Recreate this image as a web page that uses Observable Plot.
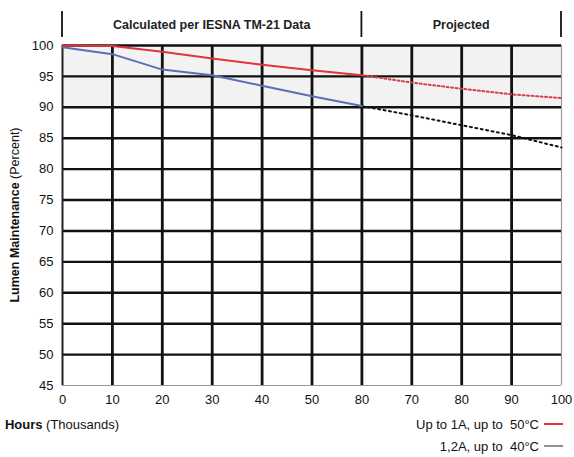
<!DOCTYPE html>
<html><head><meta charset="utf-8">
<script src="https://cdn.jsdelivr.net/npm/d3@7"></script>
<script src="https://cdn.jsdelivr.net/npm/@observablehq/plot@0.6"></script>
<style>body{margin:0;background:#fff;font-family:"Liberation Sans",Arial,sans-serif;}</style>
</head><body><div id="chart"></div>
<script>
// Data (thousands of hours, percent lumen maintenance)
const hours = [0, 10, 20, 30, 40, 50, 60];
const red50 = [100, 99.9, 99.0, 97.9, 96.9, 96.0, 95.2];
const blue40 = [99.7, 98.6, 96.1, 95.2, 93.5, 91.8, 90.2];
const projHours = [60, 70, 80, 90, 100];
const red50Proj = [95.2, 94.0, 93.0, 92.1, 91.5];
const blue40Proj = [90.2, 88.7, 87.1, 85.5, 83.5];
const xTicks = [0, 10, 20, 30, 40, 50, 60, 70, 80, 90, 100];
const xTickLabels = ["0", "10", "20", "30", "40", "50", "80", "70", "80", "90", "100"];
const yTicks = [45, 50, 55, 60, 65, 70, 75, 80, 85, 90, 95, 100];
const gridX = [10, 20, 30, 40, 50, 60, 70, 80, 90];
const gridY = [50, 55, 60, 65, 70, 75, 80, 85, 90, 95, 100];
const sections = ["Calculated per IESNA TM-21 Data", "Projected"];
const sectionBounds = [0, 60, 100];
const legendLabels = ["Up to 1A, up to  50°C", "1,2A, up to  40°C"];
const legendColors = ["#e0353a", "#8a9098"];

(function () {
const solidRed = hours.map((h, i) => ({x: h, y: red50[i]}));
const solidBlue = hours.map((h, i) => ({x: h, y: blue40[i]}));
const projRed = projHours.map((h, i) => ({x: h, y: red50Proj[i]}));
const projBlue = projHours.map((h, i) => ({x: h, y: blue40Proj[i]}));
const fmt = (d) => xTickLabels[xTicks.indexOf(d)];

const plot = Plot.plot({
  width: 574,
  height: 457,
  marginTop: 45,
  marginBottom: 72,
  marginLeft: 62,
  marginRight: 13,
  style: {fontFamily: '"Liberation Sans", Arial, sans-serif', fontSize: "13px", background: "#fff", color: "#111"},
  x: {domain: [0, 100], label: null},
  y: {domain: [45, 100], label: null},
  marks: [
    Plot.rect([{}], {x1: 0, x2: 100, y1: 90, y2: 100, fill: "#f2f2f2"}),
    Plot.ruleY([45], {stroke: "#999", strokeWidth: 1.2}),
    Plot.ruleX([100], {stroke: "#999", strokeWidth: 1.2}),
    Plot.ruleY(gridY, {stroke: "#111", strokeWidth: 2.4}),
    Plot.ruleX(gridX, {stroke: "#111", strokeWidth: 2.8}),
    Plot.ruleX([0], {stroke: "#222", strokeWidth: 2}),
    Plot.line(projRed, {x: "x", y: "y", stroke: "#d8404e", strokeWidth: 2, strokeDasharray: "2,2.5"}),
    Plot.line(projBlue, {x: "x", y: "y", stroke: "#111", strokeWidth: 2, strokeDasharray: "2,3.5"}),
    Plot.line(solidBlue, {x: "x", y: "y", stroke: "#5b6fb4", strokeWidth: 2}),
    Plot.line(solidRed, {x: "x", y: "y", stroke: "#e0353a", strokeWidth: 2}),
    Plot.axisX({ticks: xTicks, tickFormat: fmt, tickSize: 0, tickPadding: 9, label: null, fontSize: 13}),
    Plot.axisY({ticks: yTicks, tickSize: 0, tickPadding: 9, label: null, fontSize: 13})
  ]
});
document.getElementById("chart").append(plot);

const xs = plot.scale("x"), ys = plot.scale("y");
const svg = d3.select(plot);
const yTop = ys.apply(100), yBottom = ys.apply(45);
const xLeft = xs.apply(0), xRight = xs.apply(100);

// header section dividers and titles
const hdr = svg.append("g");
sectionBounds.forEach(b => {
  hdr.append("line").attr("x1", xs.apply(b)).attr("x2", xs.apply(b))
    .attr("y1", yTop - 34).attr("y2", yTop - 8).attr("stroke", "#111").attr("stroke-width", 1.8);
});
sections.forEach((s, i) => {
  hdr.append("text").attr("x", (xs.apply(sectionBounds[i]) + xs.apply(sectionBounds[i + 1])) / 2)
    .attr("y", yTop - 16).attr("text-anchor", "middle").attr("font-size", 12.5).attr("font-weight", "bold")
    .attr("fill", "#222").text(s);
});

// y-axis label
const yl = svg.append("text").attr("transform", `translate(19,${(yTop + yBottom) / 2}) rotate(-90)`)
  .attr("text-anchor", "middle").attr("font-size", 12.5).attr("fill", "#111");
yl.append("tspan").attr("font-weight", "bold").text("Lumen Maintenance ");
yl.append("tspan").text("(Percent)");

// x-axis label
const xl = svg.append("text").attr("x", xLeft).attr("y", yBottom + 44).attr("font-size", 13).attr("fill", "#111");
xl.append("tspan").attr("font-weight", "bold").text("Hours ");
xl.append("tspan").text("(Thousands)");

// legend
legendLabels.forEach((lab, i) => {
  const yy = yBottom + 39 + i * 22;
  svg.append("text").attr("x", xRight - 22).attr("y", yy + 5).attr("text-anchor", "end")
    .attr("font-size", 13).attr("fill", "#111").text(lab);
  svg.append("line").attr("x1", xRight - 17).attr("x2", xRight + 2).attr("y1", yy).attr("y2", yy)
    .attr("stroke", legendColors[i]).attr("stroke-width", 2);
});
})();
</script></body></html>
